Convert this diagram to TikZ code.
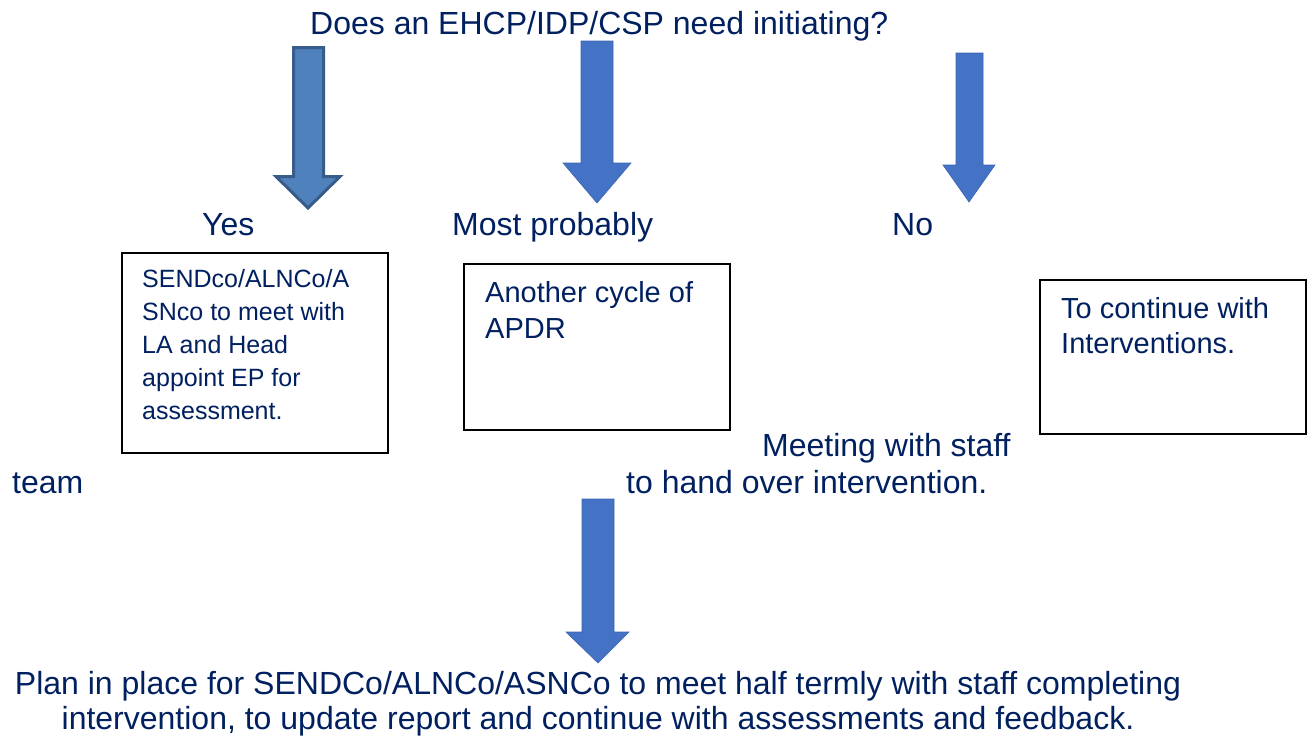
\documentclass[tikz,border=0pt]{standalone}
\usepackage{fontspec}
\setmainfont{Liberation Sans}
\definecolor{navy}{HTML}{002060}
\definecolor{arrowfill}{HTML}{4472C4}
\definecolor{arrowedge}{HTML}{3A64B0}
\definecolor{oldfill}{HTML}{4F81BD}
\definecolor{oldedge}{HTML}{385D8A}
\tikzset{
  lbl/.style={anchor=base west, inner sep=0pt, text=navy, font=\fontsize{32}{38}\selectfont},
  blbl/.style={anchor=base west, inner sep=0pt, text=navy, font=\fontsize{29}{35}\selectfont},
  slbl/.style={anchor=base west, inner sep=0pt, text=navy, font=\fontsize{25}{33}\selectfont},
  ctr/.style={anchor=base, inner sep=0pt, text=navy, font=\fontsize{32}{38}\selectfont},
  boxnode/.style={draw=black, line width=1.6pt, fill=white, inner sep=0pt, anchor=north west},
  bigarrow/.style={fill=arrowfill, draw=arrowedge, line width=0.6pt, line join=miter},
  oldarrow/.style={fill=oldfill, draw=oldedge, line width=3pt, line join=miter}
}
\begin{document}
\begin{tikzpicture}[x=1pt,y=-1pt]
\useasboundingbox (0,0) rectangle (1311,737);
\fill[white] (0,0) rectangle (1311,737);

% title
\node[lbl] (title) at (310,34) {Does an EHCP/IDP/CSP need initiating?};

% arrows
\draw[oldarrow] (293.5,47.5) -- (323.5,47.5) -- (323.5,176.5) -- (340,176.5) -- (308,208) -- (276,176.5) -- (293.5,176.5) -- cycle;
\draw[bigarrow] (581,41) -- (613,41) -- (613,163) -- (631,163) -- (597,203) -- (563,163) -- (581,163) -- cycle;
\draw[bigarrow] (956,53) -- (983,53) -- (983,165) -- (995,165) -- (969,202) -- (943,165) -- (956,165) -- cycle;
\draw[bigarrow] (582,499) -- (614,499) -- (614,632) -- (629,632) -- (598,663) -- (566,632) -- (582,632) -- cycle;

% answers
\node[lbl] (yes) at (202,235) {Yes};
\node[lbl] (most) at (452,235) {Most probably};
\node[lbl] (no) at (892,235) {No};

% boxes
\node[boxnode, minimum width=266pt, minimum height=200pt] (box1) at (121,252) {};
\node[boxnode, minimum width=266pt, minimum height=166pt] (box2) at (463,263) {};
\node[boxnode, minimum width=266pt, minimum height=154pt] (box3) at (1039,279) {};

\node[slbl] (b1a) at (142,287) {SENDco/ALNCo/A};
\node[slbl] (b1b) at (142,320) {SNco to meet with};
\node[slbl] (b1c) at (142,353) {LA and Head};
\node[slbl] (b1d) at (142,386) {appoint EP for};
\node[slbl] (b1e) at (142,419) {assessment.};

\node[blbl] (b2a) at (485,302) {Another cycle of};
\node[blbl] (b2b) at (485,338) {APDR};

\node[blbl] (b3a) at (1061,318) {To continue with};
\node[blbl] (b3b) at (1061,353) {Interventions.};

% middle texts
\node[lbl] (meet) at (762,456) {Meeting with staff};
\node[lbl] (team) at (12,493) {team};
\node[lbl] (hand) at (626,493) {to hand over intervention.};

% bottom
\node[ctr] (plan1) at (598,694) {Plan in place for SENDCo/ALNCo/ASNCo to meet half termly with staff completing};
\node[ctr] (plan2) at (598,729) {intervention, to update report and continue with assessments and feedback.};
\end{tikzpicture}
\end{document}
